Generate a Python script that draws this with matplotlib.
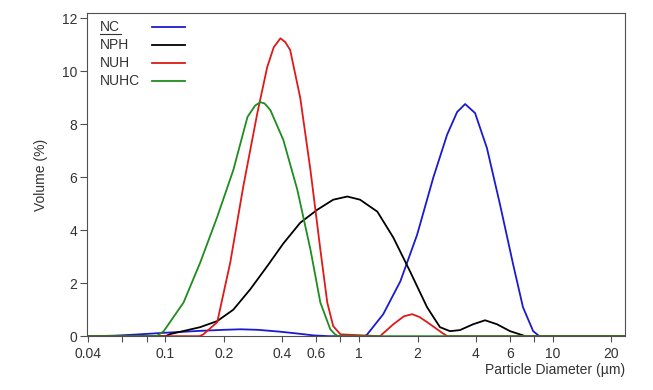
import matplotlib.pyplot as plt
from matplotlib.ticker import FixedLocator, NullFormatter

plt.rcParams['font.family'] = ['Liberation Sans', 'DejaVu Sans']

# =========================
# DATA
# =========================
NAMES = ["NC", "NPH", "NUH", "NUHC"]
COLORS = ["#1a1ad0", "#000000", "#e01818", "#1e8c1e"]

nc_d = [0.04, 0.042, 0.055, 0.07, 0.1, 0.15, 0.2, 0.244, 0.3, 0.39, 0.48, 0.58, 0.7, 0.9,
        1.07, 1.1, 1.33, 1.63, 1.99, 2.41, 2.84, 3.2, 3.52, 3.96, 4.56, 5.33, 6.23, 7.0,
        7.9, 8.5, 23.5]
nc_v = [0.0, 0.0, 0.02, 0.06, 0.13, 0.2, 0.24, 0.26, 0.24, 0.17, 0.1, 0.03, 0.0, 0.0,
        0.0, 0.07, 0.83, 2.07, 3.83, 5.98, 7.6, 8.46, 8.76, 8.42, 7.1, 4.96, 2.7, 1.09,
        0.19, 0.0, 0.0]

nph_d = [0.04, 0.1, 0.106, 0.151, 0.185, 0.224, 0.274, 0.335, 0.406, 0.496, 0.607, 0.734,
         0.868, 1.01, 1.24, 1.5, 1.83, 2.24, 2.61, 2.94, 3.31, 3.87, 4.46, 5.14, 6.0,
         6.74, 7.2, 23.5]
nph_v = [0.0, 0.0, 0.08, 0.34, 0.57, 1.0, 1.77, 2.64, 3.5, 4.28, 4.77, 5.15,
         5.27, 5.15, 4.7, 3.72, 2.44, 1.09, 0.34, 0.19, 0.23, 0.45, 0.6, 0.45, 0.19,
         0.07, 0.0, 0.0]

nuh_d = [0.04, 0.15, 0.157, 0.185, 0.216, 0.252, 0.298, 0.335, 0.362, 0.392, 0.415, 0.44,
         0.496, 0.56, 0.63, 0.684, 0.734, 0.8, 1.28, 1.5, 1.7, 1.875, 2.05, 2.24, 2.71,
         2.85, 23.5]
nuh_v = [0.0, 0.0, 0.07, 0.53, 2.78, 5.64, 8.42, 10.15, 10.9, 11.24, 11.1, 10.8,
         9.0, 6.27, 3.27, 1.27, 0.38, 0.07, 0.0, 0.45, 0.75, 0.83, 0.72, 0.53, 0.1,
         0.0, 0.0]

nuhc_d = [0.04, 0.09, 0.098, 0.124, 0.151, 0.185, 0.224, 0.265, 0.29, 0.309, 0.325, 0.348,
          0.406, 0.479, 0.56, 0.63, 0.709, 0.75, 0.78, 23.5]
nuhc_v = [0.0, 0.0, 0.19, 1.27, 2.77, 4.5, 6.27, 8.27, 8.7, 8.83, 8.78, 8.53,
          7.4, 5.53, 3.27, 1.27, 0.26, 0.07, 0.0, 0.0]

X_MAJOR = [0.04, 0.1, 0.2, 0.4, 0.6, 1, 2, 4, 6, 10, 20]
X_LABELS = ["0.04", "0.1", "0.2", "0.4", "0.6", "1", "2", "4", "6", "10", "20"]
X_MINOR = [0.06, 0.08, 0.8, 8]
Y_TICKS = [0, 2, 4, 6, 8, 10, 12]

TEXT_C = "#333333"
AXIS_C = "#505050"

fig = plt.figure(figsize=(6.53, 3.90), dpi=100)
ax = fig.add_axes([0.133, 0.138, 0.824, 0.829])

series = [(nc_d, nc_v), (nph_d, nph_v), (nuh_d, nuh_v), (nuhc_d, nuhc_v)]
for (d, v), c in zip(series, COLORS):
    ax.plot(d, v, color=c, lw=1.3)

ax.set_xscale("log")
ax.set_xlim(0.0393, 23.5)
ax.set_ylim(0, 12.2)

ax.xaxis.set_major_locator(FixedLocator(X_MAJOR))
ax.set_xticklabels(X_LABELS)
ax.xaxis.set_minor_locator(FixedLocator(X_MINOR))
ax.xaxis.set_minor_formatter(NullFormatter())
ax.set_yticks(Y_TICKS)

ax.tick_params(axis="both", which="both", colors=AXIS_C, labelcolor=TEXT_C,
               labelsize=10, width=0.8)
ax.tick_params(axis="x", which="both", length=4.5, pad=3)
ax.tick_params(axis="y", length=5, pad=2)
for s in ax.spines.values():
    s.set_color(AXIS_C)
    s.set_linewidth(0.8)

ax.set_ylabel("Volume (%)", fontsize=10, color=TEXT_C, labelpad=10)
ax.set_xlabel("Particle Diameter (µm)", fontsize=10, color=TEXT_C, loc="right", labelpad=2)

# legend: name first, line after, lines aligned
for i, (name, c) in enumerate(zip(NAMES, COLORS)):
    y = 0.957 - i * 0.0557
    ax.text(0.025, y, name, transform=ax.transAxes, fontsize=10, color=TEXT_C,
            va="center", ha="left")
    ax.plot([0.121, 0.183], [y, y], transform=ax.transAxes, color=c, lw=1.3)
# little rule under the first entry
ax.plot([0.025, 0.063], [0.935, 0.935], transform=ax.transAxes, color=TEXT_C, lw=0.8)

fig.savefig("out.png", dpi=100)
